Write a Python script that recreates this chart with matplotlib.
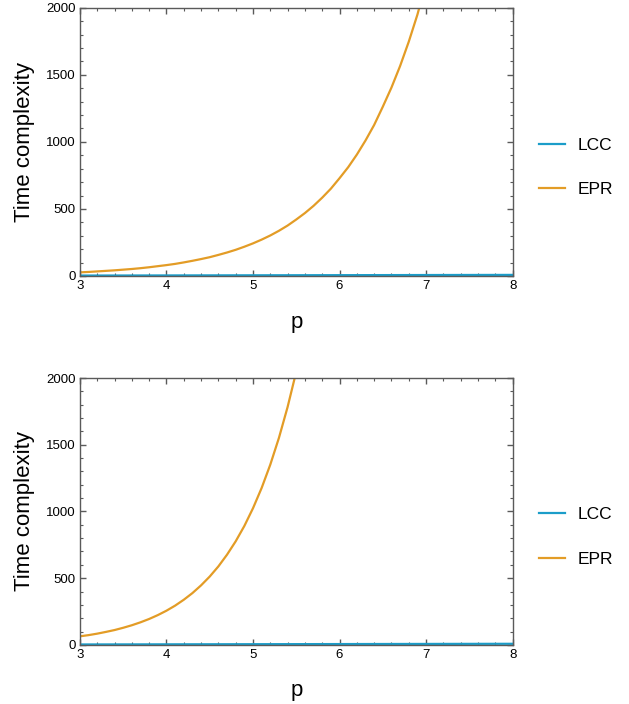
import matplotlib
matplotlib.use("Agg")
import matplotlib.pyplot as plt
from matplotlib.ticker import MultipleLocator

plt.rcParams['font.family'] = ['Liberation Sans', 'DejaVu Sans']

# values
p_lcc = [3, 4, 5, 6, 7, 8]
lcc = [3, 4, 5, 6, 7, 8]

p_top = [3.0, 3.1, 3.2, 3.3, 3.4, 3.5, 3.6, 3.7, 3.8, 3.9,
         4.0, 4.1, 4.2, 4.3, 4.4, 4.5, 4.6, 4.7, 4.8, 4.9,
         5.0, 5.1, 5.2, 5.3, 5.4, 5.5, 5.6, 5.7, 5.8, 5.9,
         6.0, 6.1, 6.2, 6.3, 6.4, 6.5, 6.6, 6.7, 6.8, 6.9, 7.0]
epr_top = [27, 30, 34, 38, 42, 47, 52, 58, 65, 73,
           81, 90, 101, 113, 126, 140, 157, 175, 195, 218,
           243, 271, 302, 337, 376, 421, 469, 523, 584, 651,
           729, 811, 905, 1010, 1126, 1262, 1405, 1566, 1747, 1949, 2187]

p_bot = [3.0, 3.1, 3.2, 3.3, 3.4, 3.5, 3.6, 3.7, 3.8, 3.9,
         4.0, 4.1, 4.2, 4.3, 4.4, 4.5, 4.6, 4.7, 4.8, 4.9,
         5.0, 5.1, 5.2, 5.3, 5.4, 5.5, 5.6]
epr_bot = [64, 73, 84, 97, 111, 128, 147, 169, 194, 223,
           256, 294, 338, 388, 446, 512, 588, 676, 776, 891,
           1024, 1176, 1351, 1552, 1783, 2048, 2353]

lcc_color = '#1b9dc9'
epr_color = '#e39c26'
frame_color = '#5a5a5a'

fig = plt.figure(figsize=(6.29, 7.04), dpi=100)
ax_top = fig.add_axes([0.127, 0.608, 0.688, 0.381])
ax_bot = fig.add_axes([0.127, 0.084, 0.688, 0.379])

for ax, px, epr in [(ax_top, p_top, epr_top), (ax_bot, p_bot, epr_bot)]:
    ax.plot(p_lcc, lcc, color=lcc_color, lw=1.6, label='LCC')
    ax.plot(px, epr, color=epr_color, lw=1.6, label='EPR')
    ax.set_xlim(3, 8)
    ax.set_ylim(0, 2000)
    ax.xaxis.set_major_locator(MultipleLocator(1))
    ax.xaxis.set_minor_locator(MultipleLocator(0.2))
    ax.yaxis.set_major_locator(MultipleLocator(500))
    ax.yaxis.set_minor_locator(MultipleLocator(100))
    ax.tick_params(which='both', direction='in', top=True, right=True,
                   color=frame_color, labelsize=9.5, pad=3)
    ax.tick_params(which='major', length=4, width=1)
    ax.tick_params(which='minor', length=2.2, width=0.8)
    for s in ax.spines.values():
        s.set_color(frame_color)
        s.set_linewidth(1)
    ax.set_xlabel('p', fontsize=16, labelpad=14)
    ax.set_ylabel('Time complexity', fontsize=16, labelpad=8)
    ax.legend(loc='center left', bbox_to_anchor=(1.062, 0.405), frameon=False,
              fontsize=12.5, handlelength=1.45, handletextpad=0.75,
              labelspacing=1.7, borderpad=0, borderaxespad=0)

fig.savefig('out.png', dpi=100)
